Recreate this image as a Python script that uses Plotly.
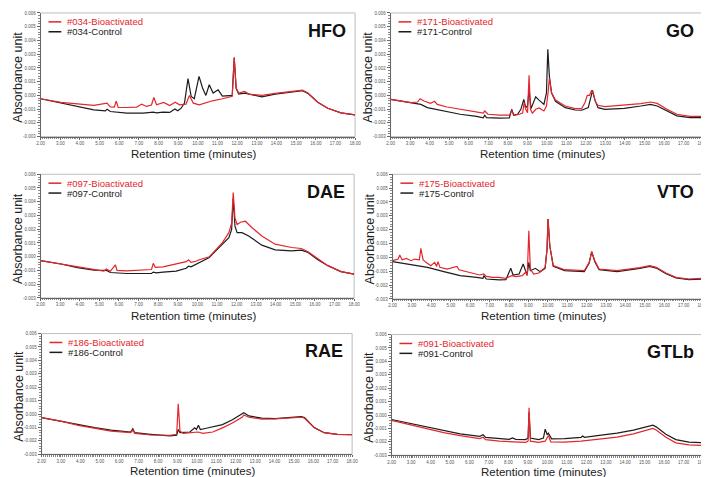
import plotly.graph_objects as go

W, H = 709, 477

# ---------------- data (retention time in minutes, absorbance units) ----------------
hfo_bio_t = [2.00, 3.04, 4.71, 5.38, 5.55, 5.75, 5.85, 5.95, 6.39, 6.89, 7.14, 7.39, 7.64, 7.76, 7.90,
             8.26, 8.57, 8.85, 9.07, 9.40, 9.57, 9.77, 10.07, 10.41, 10.74, 11.25, 11.75, 11.85, 11.95,
             12.08, 12.38, 12.59, 13.26, 13.93, 14.76, 15.33, 15.60, 16.10, 16.61, 17.28, 18.00]
hfo_bio_y = [-0.00024, -0.00051, -0.00073, -0.00056, -0.00083, -0.00085, -0.00041, -0.00088, -0.00088,
             -0.00085, -0.00063, -0.00080, -0.00070, -0.00015, -0.00068, -0.00051, -0.00073, -0.00049,
             -0.00068, -0.00063, 0.00000, -0.00056, -0.00068, -0.00051, -0.00039, -0.00024, -0.00007,
             0.00278, 0.00054, 0.00017, 0.00029, 0.00010, 0.00000, 0.00015, 0.00029, 0.00039, 0.00017,
             -0.00049, -0.00093, -0.00127, -0.00141]
hfo_ctl_t = [2.00, 3.04, 3.88, 4.71, 5.30, 5.38, 5.55, 6.39, 7.23, 7.73, 7.90, 8.23, 8.57, 8.83, 8.98,
             9.15, 9.32, 9.50, 9.66, 9.82, 10.06, 10.24, 10.41, 10.58, 10.78, 11.03, 11.25, 11.75, 11.85,
             11.95, 12.08, 12.38, 13.26, 13.93, 15.33, 15.60, 16.10, 16.61, 17.28, 18.00]
hfo_ctl_y = [-0.00024, -0.00056, -0.00080, -0.00105, -0.00112, -0.00100, -0.00117, -0.00129, -0.00129,
             -0.00122, -0.00127, -0.00122, -0.00124, -0.00098, -0.00112, -0.00093, -0.00056, 0.00122,
             -0.00007, -0.00024, 0.00139, 0.00054, 0.00000, 0.00078, 0.00017, 0.00041, -0.00005, 0.00000,
             0.00273, 0.00049, 0.00010, 0.00017, -0.00010, 0.00010, 0.00034, 0.00015, -0.00049, -0.00093,
             -0.00127, -0.00141]

go_bio_t = [2.00, 3.04, 3.38, 3.51, 3.71, 4.05, 4.25, 4.39, 4.89, 5.56, 6.24, 6.49, 6.74, 6.82, 6.99,
            7.58, 8.08, 8.20, 8.34, 8.59, 8.76, 8.84, 8.92, 9.01, 9.09, 9.16, 9.26, 9.43, 9.60, 9.85,
            9.98, 10.07, 10.13, 10.24, 10.44, 10.94, 11.45, 11.78, 11.95, 12.07, 12.18, 12.29, 12.39,
            12.49, 12.62, 12.96, 13.97, 14.81, 15.31, 15.65, 16.15, 16.66, 17.33, 18.00]
go_bio_y = [-0.00029, -0.00053, -0.00048, -0.00024, -0.00041, -0.00058, -0.00043, -0.00065, -0.00084,
            -0.00101, -0.00115, -0.00125, -0.00129, -0.00113, -0.00137, -0.00144, -0.00144, -0.00113,
            -0.00144, -0.00137, -0.00129, -0.00053, -0.00101, -0.00125, 0.00146, -0.00101, -0.00129,
            -0.00101, -0.00091, -0.00113, -0.00077, 0.00031, 0.00127, 0.00019, -0.00034, -0.00077,
            -0.00096, -0.00096, -0.00053, 0.00000, 0.00000, 0.00038, 0.00007, -0.00048, -0.00072,
            -0.00082, -0.00072, -0.00060, -0.00048, -0.00058, -0.00101, -0.00137, -0.00153, -0.00153]
go_ctl_t = [2.00, 3.04, 3.55, 3.88, 4.72, 5.56, 6.40, 6.74, 6.82, 6.91, 7.58, 8.08, 8.20, 8.30, 8.50,
            8.67, 8.82, 8.92, 9.01, 9.09, 9.19, 9.29, 9.43, 9.60, 9.85, 9.98, 10.05, 10.13, 10.24,
            10.44, 10.94, 11.45, 11.78, 12.12, 12.24, 12.34, 12.45, 12.62, 12.96, 13.97, 14.81, 15.31,
            15.65, 16.15, 16.66, 17.33, 18.00]
go_ctl_y = [-0.00029, -0.00055, -0.00065, -0.00089, -0.00115, -0.00137, -0.00153, -0.00163, -0.00144,
            -0.00161, -0.00165, -0.00163, -0.00101, -0.00144, -0.00137, -0.00101, -0.00029, -0.00089,
            -0.00077, 0.00043, -0.00096, -0.00065, -0.00010, -0.00034, -0.00065, 0.00019, 0.00336,
            0.00139, 0.00019, -0.00043, -0.00089, -0.00106, -0.00108, -0.00089, -0.00010, 0.00036,
            -0.00029, -0.00089, -0.00101, -0.00094, -0.00077, -0.00065, -0.00077, -0.00113, -0.00149,
            -0.00161, -0.00161]

dae_bio_t = [2.00, 3.04, 3.88, 4.72, 5.23, 5.36, 5.56, 5.82, 5.90, 6.40, 7.24, 7.66, 7.75, 7.85, 8.25,
             8.92, 9.43, 9.55, 9.68, 9.93, 10.10, 10.61, 10.94, 11.28, 11.61, 11.75, 11.83, 11.92, 12.03,
             12.20, 12.45, 12.79, 13.29, 13.97, 14.81, 15.31, 15.65, 16.15, 16.66, 17.33, 18.00]
dae_bio_y = [-0.00029, -0.00053, -0.00077, -0.00093, -0.00105, -0.00089, -0.00105, -0.00060, -0.00100,
             -0.00103, -0.00098, -0.00093, -0.00048, -0.00077, -0.00074, -0.00055, -0.00036, -0.00022,
             -0.00041, -0.00033, -0.00022, 0.00000, 0.00050, 0.00103, 0.00175, 0.00246, 0.00467, 0.00282,
             0.00234, 0.00251, 0.00258, 0.00211, 0.00151, 0.00091, 0.00067, 0.00060, 0.00036, -0.00017,
             -0.00065, -0.00108, -0.00127]
dae_ctl_t = [2.00, 3.04, 3.88, 4.72, 5.36, 5.56, 6.40, 7.24, 7.66, 7.75, 7.90, 8.25, 8.92, 9.43, 9.55,
             9.68, 10.10, 10.61, 10.94, 11.28, 11.61, 11.75, 11.83, 11.92, 12.03, 12.28, 12.62, 13.29,
             13.97, 14.81, 15.31, 15.65, 16.15, 16.66, 17.33, 18.00]
dae_ctl_y = [-0.00029, -0.00053, -0.00079, -0.00098, -0.00100, -0.00115, -0.00122, -0.00124, -0.00122,
             -0.00112, -0.00117, -0.00112, -0.00105, -0.00084, -0.00069, -0.00074, -0.00041, -0.00005,
             0.00043, 0.00091, 0.00139, 0.00199, 0.00426, 0.00222, 0.00175, 0.00175, 0.00151, 0.00084,
             0.00050, 0.00043, 0.00048, 0.00031, -0.00022, -0.00065, -0.00108, -0.00127]

vto_bio_t = [2.00, 2.29, 2.37, 2.49, 2.71, 2.96, 3.13, 3.38, 3.46, 3.57, 3.72, 3.97, 4.17, 4.27, 4.34,
             4.44, 4.81, 5.06, 5.32, 5.42, 5.99, 6.49, 6.70, 6.83, 7.17, 7.47, 7.84, 8.14, 8.35, 8.68,
             8.85, 8.94, 9.02, 9.10, 9.27, 9.53, 9.86, 9.96, 10.01, 10.10, 10.28, 10.87, 11.88, 12.13,
             12.26, 12.42, 12.64, 13.57, 14.74, 15.25, 15.59, 16.09, 16.60, 17.27, 18.00]
vto_bio_y = [-0.00024, -0.00012, 0.00017, -0.00017, -0.00007, -0.00024, -0.00012, -0.00017, 0.00065,
             -0.00017, -0.00036, -0.00060, -0.00036, -0.00065, -0.00031, -0.00072, -0.00084, -0.00074,
             -0.00065, -0.00089, -0.00108, -0.00127, -0.00120, -0.00137, -0.00144, -0.00144, -0.00151,
             -0.00132, -0.00139, -0.00132, -0.00108, -0.00132, 0.00192, -0.00084, -0.00120, -0.00113,
             -0.00072, 0.00060, 0.00276, 0.00084, -0.00060, -0.00089, -0.00096, -0.00036, 0.00041,
             -0.00024, -0.00084, -0.00096, -0.00074, -0.00060, -0.00072, -0.00113, -0.00144, -0.00156,
             -0.00151]
vto_ctl_t = [2.00, 2.96, 3.80, 4.64, 5.48, 6.33, 6.66, 6.70, 6.83, 7.50, 7.84, 8.09, 8.21, 8.52, 8.73,
             8.85, 8.94, 9.02, 9.10, 9.36, 9.61, 9.86, 9.96, 10.01, 10.10, 10.28, 10.87, 11.88, 12.13,
             12.26, 12.42, 12.64, 13.57, 14.74, 15.25, 15.59, 16.09, 16.60, 17.27, 18.00]
vto_ctl_y = [-0.00031, -0.00050, -0.00072, -0.00103, -0.00132, -0.00144, -0.00151, -0.00132, -0.00156,
             -0.00163, -0.00161, -0.00079, -0.00127, -0.00120, -0.00048, -0.00096, -0.00120, -0.00036,
             -0.00096, -0.00079, -0.00103, -0.00079, 0.00060, 0.00276, 0.00084, -0.00065, -0.00096,
             -0.00103, -0.00041, 0.00041, -0.00031, -0.00089, -0.00103, -0.00079, -0.00065, -0.00077,
             -0.00118, -0.00149, -0.00161, -0.00156]

rae_bio_t = [2.00, 3.05, 3.89, 4.74, 5.58, 6.59, 6.70, 6.80, 7.61, 8.62, 8.96, 9.04, 9.13, 9.30, 9.80,
             10.06, 10.31, 10.82, 11.32, 11.83, 12.33, 12.42, 12.68, 13.35, 14.03, 14.87, 15.38, 15.55,
             16.05, 16.56, 17.24, 18.00]
rae_bio_y = [-0.00026, -0.00055, -0.00084, -0.00103, -0.00127, -0.00139, -0.00120, -0.00144, -0.00156,
             -0.00158, -0.00151, 0.00077, -0.00127, -0.00144, -0.00134, -0.00134, -0.00144, -0.00134,
             -0.00103, -0.00067, -0.00024, -0.00007, -0.00024, -0.00038, -0.00036, -0.00031, -0.00024,
             -0.00031, -0.00103, -0.00139, -0.00151, -0.00153]
rae_ctl_t = [2.00, 3.05, 3.89, 4.74, 5.58, 6.59, 6.70, 6.80, 7.61, 8.62, 8.96, 9.04, 9.13, 9.64, 9.89,
             9.98, 10.08, 10.18, 10.48, 10.99, 11.32, 11.83, 12.33, 12.42, 12.68, 13.35, 14.03, 14.87,
             15.38, 15.55, 16.05, 16.56, 17.24, 18.00]
rae_ctl_y = [-0.00026, -0.00055, -0.00082, -0.00101, -0.00120, -0.00134, -0.00110, -0.00139, -0.00151,
             -0.00163, -0.00158, -0.00115, -0.00139, -0.00134, -0.00103, -0.00115, -0.00084, -0.00115,
             -0.00106, -0.00091, -0.00079, -0.00043, -0.00002, 0.00010, -0.00014, -0.00031, -0.00034,
             -0.00026, -0.00019, -0.00026, -0.00101, -0.00139, -0.00151, -0.00153]

gtlb_bio_t = [2.00, 3.01, 3.85, 4.68, 5.52, 6.53, 6.70, 6.83, 7.54, 8.04, 8.88, 9.01, 9.06, 9.13, 9.55,
              9.89, 10.05, 10.18, 10.89, 11.73, 12.57, 13.58, 14.42, 15.09, 15.42, 15.59, 16.09, 16.60,
              17.27, 18.00]
gtlb_bio_y = [-0.00040, -0.00076, -0.00107, -0.00131, -0.00154, -0.00176, -0.00166, -0.00183, -0.00195,
              -0.00200, -0.00204, -0.00195, 0.00055, -0.00195, -0.00204, -0.00195, -0.00152, -0.00200,
              -0.00202, -0.00195, -0.00183, -0.00164, -0.00140, -0.00114, -0.00100, -0.00112, -0.00166,
              -0.00207, -0.00223, -0.00226]
gtlb_ctl_t = [2.00, 3.01, 3.85, 4.68, 5.52, 6.53, 6.70, 6.83, 7.54, 8.04, 8.21, 8.38, 8.88, 9.01, 9.06,
              9.13, 9.55, 9.80, 9.89, 9.99, 10.05, 10.22, 10.89, 11.73, 11.82, 11.90, 12.57, 13.58, 14.42,
              15.09, 15.42, 15.59, 16.09, 16.60, 17.27, 18.00]
gtlb_ctl_y = [-0.00033, -0.00064, -0.00093, -0.00116, -0.00140, -0.00159, -0.00147, -0.00166, -0.00176,
              -0.00181, -0.00171, -0.00181, -0.00183, -0.00171, 0.00019, -0.00171, -0.00183, -0.00171,
              -0.00105, -0.00147, -0.00135, -0.00178, -0.00176, -0.00166, -0.00157, -0.00166, -0.00154,
              -0.00135, -0.00112, -0.00088, -0.00076, -0.00088, -0.00143, -0.00183, -0.00202, -0.00207]

# tick labels
x_tick_vals = [2, 3, 4, 5, 6, 7, 8, 9, 10, 11, 12, 13, 14, 15, 16, 17, 18]
x_tick_text = ["2.00", "3.00", "4.00", "5.00", "6.00", "7.00", "8.00", "9.00", "10.00", "11.00",
               "12.00", "13.00", "14.00", "15.00", "16.00", "17.00", "18.00"]
y_tick_vals = [-0.003, -0.002, -0.001, 0.0, 0.001, 0.002, 0.003, 0.004, 0.005, 0.006]
y_tick_text = ["-0.003", "-0.002", "-0.001", "0.000", "0.001", "0.002", "0.003", "0.004", "0.005", "0.006"]

panel_labels = ["HFO", "GO", "DAE", "VTO", "RAE", "GTLb"]
sample_ids = ["#034", "#171", "#097", "#175", "#186", "#091"]
series_suffix = ["-Bioactivated", "-Control"]

# ---------------- layout geometry (pixels) ----------------
RED = "#e3262c"
BLK = "#1c1c1c"

panels = [
    # bio_t, bio_y, ctl_t, ctl_y, (x0, x1, ytop, ybot), x-title offset
    (hfo_bio_t, hfo_bio_y, hfo_ctl_t, hfo_ctl_y, (29, 348, 3, 128), 18),
    (go_bio_t, go_bio_y, go_ctl_t, go_ctl_y, (384, 701, 3, 128), 18),
    (dae_bio_t, dae_bio_y, dae_ctl_t, dae_ctl_y, (29, 347, 166, 291), 18),
    (vto_bio_t, vto_bio_y, vto_ctl_t, vto_ctl_y, (386, 701, 166, 292), 17),
    (rae_bio_t, rae_bio_y, rae_ctl_t, rae_ctl_y, (30, 345, 327, 449), 17),
    (gtlb_bio_t, gtlb_bio_y, gtlb_ctl_t, gtlb_ctl_y, (385, 701, 328, 450), 17),
]


def px(x):
    return x / W


def py(y):
    return (H - y) / H


fig = go.Figure()
annotations = []
shapes = []
layout_axes = {}

for i, (bt, by, ct, cy, (x0, x1, yt, yb), toff) in enumerate(panels):
    n = i + 1
    xa = "x" if n == 1 else f"x{n}"
    ya = "y" if n == 1 else f"y{n}"
    xkey = "xaxis" if n == 1 else f"xaxis{n}"
    ykey = "yaxis" if n == 1 else f"yaxis{n}"

    fig.add_trace(go.Scatter(x=ct, y=cy, mode="lines", line=dict(color=BLK, width=1.2),
                             name=sample_ids[i] + series_suffix[1], xaxis=xa, yaxis=ya, showlegend=False))
    fig.add_trace(go.Scatter(x=bt, y=by, mode="lines", line=dict(color=RED, width=1.2),
                             name=sample_ids[i] + series_suffix[0], xaxis=xa, yaxis=ya, showlegend=False))

    layout_axes[xkey] = dict(
        domain=[px(x0), px(x1)], anchor=ya, range=[2, 18],
        tickvals=x_tick_vals, ticktext=x_tick_text,
        showline=True, linecolor="#666", linewidth=1, mirror=False,
        ticks="outside", ticklen=2, tickcolor="#666", tickwidth=1,
        minor=dict(dtick=0.1, ticks="outside", ticklen=1.5, tickcolor="#888"),
        tickfont=dict(size=4.5, color="#555", family="Arial"),
        showgrid=False, zeroline=False, fixedrange=True,
    )
    layout_axes[ykey] = dict(
        domain=[py(yb), py(yt)], anchor=xa, range=[-0.003, 0.006],
        tickvals=y_tick_vals, ticktext=y_tick_text,
        showline=True, linecolor="#666", linewidth=1, mirror=False,
        ticks="outside", ticklen=3, tickcolor="#666", tickwidth=1,
        minor=dict(dtick=0.0002, ticks="outside", ticklen=1.5, tickcolor="#888"),
        tickfont=dict(size=4.5, color="#555", family="Arial"),
        showgrid=False, zeroline=False, fixedrange=True,
    )

    # light frame
    shapes.append(dict(type="rect", xref="paper", yref="paper",
                       x0=px(x0), x1=px(x1), y0=py(yb), y1=py(yt),
                       line=dict(color="#bdbdbd", width=1), layer="below"))

    # axis titles
    annotations.append(dict(text="Retention time (minutes)", xref="paper", yref="paper",
                            x=px((x0 + x1) / 2 - 4), y=py(yb + toff), showarrow=False,
                            xanchor="center", yanchor="middle",
                            font=dict(size=11.5, color="#222", family="Arial")))
    annotations.append(dict(text="Absorbance unit", xref="paper", yref="paper",
                            x=px(x0 - 23), y=py((yt + yb) / 2 + 2), showarrow=False, textangle=-90,
                            xanchor="center", yanchor="middle",
                            font=dict(size=12.5, color="#222", family="Arial")))

    # big panel label
    annotations.append(dict(text=f"<b>{panel_labels[i]}</b>", xref="paper", yref="paper",
                            x=px(x1 - 7), y=py(yt + 18), showarrow=False,
                            xanchor="right", yanchor="middle",
                            font=dict(size=18, color="#111", family="Arial")))

    # legend (line + label)
    for k, (col, suf) in enumerate([(RED, series_suffix[0]), (BLK, series_suffix[1])]):
        ly = yt + 9 + k * 10
        shapes.append(dict(type="line", xref="paper", yref="paper",
                           x0=px(x0 + 8), x1=px(x0 + 21), y0=py(ly), y1=py(ly),
                           line=dict(color=col, width=1.5)))
        annotations.append(dict(text=sample_ids[i] + suf, xref="paper", yref="paper",
                                x=px(x0 + 25), y=py(ly), showarrow=False,
                                xanchor="left", yanchor="middle",
                                font=dict(size=9.5, color=col, family="Arial")))

fig.update_layout(
    width=W, height=H, margin=dict(l=0, r=0, t=0, b=0),
    paper_bgcolor="white", plot_bgcolor="white",
    showlegend=False, annotations=annotations, shapes=shapes,
    **layout_axes,
)

fig.write_html("out.html")
